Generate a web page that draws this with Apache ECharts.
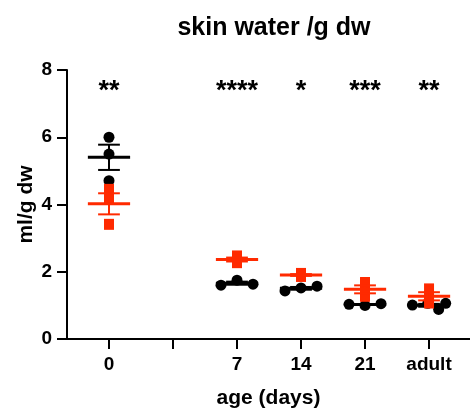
<!DOCTYPE html>
<html>
<head>
<meta charset="utf-8">
<script src="https://cdn.jsdelivr.net/npm/echarts@6/dist/echarts.min.js"></script>
<style>
  html, body { margin: 0; padding: 0; background: #fff; }
  #main { width: 470px; height: 412px; }
</style>
</head>
<body>
<div id="main"></div>
<script>
// x positions: 0, (gap), 7, 14, 21, adult
const tickLabels = ["0", "", "7", "14", "21", "adult"];
const groupPos = [0, 2, 3, 4, 5];
const yTicks = [0, 2, 4, 6, 8];

// black circles (one array per group) and their horizontal scatter
const blackValues = [
  [6.0, 5.5, 4.71],
  [1.6, 1.75, 1.63],
  [1.43, 1.52, 1.57],
  [1.03, 1.0, 1.05],
  [1.01, 1.06, 0.88, 1.06]
];
const blackJitter = [
  [0, 0, 0],
  [-0.25, 0, 0.25],
  [-0.25, 0, 0.25],
  [-0.25, 0, 0.25],
  [-0.26, -0.02, 0.15, 0.26]
];

// red squares
const redValues = [
  [4.45, 4.2, 3.41],
  [2.47, 2.35, 2.27],
  [1.95, 1.9, 1.86],
  [1.68, 1.48, 1.27],
  [1.49, 1.25, 1.07]
];

const stars = ["**", "****", "*", "***", "**"];

const BLACK = "#000000";
const RED = "#ff2a00";
const FONT = "Liberation Sans";

function meanSem(arr) {
  const n = arr.length;
  const m = arr.reduce((a, b) => a + b, 0) / n;
  const sd = Math.sqrt(arr.reduce((a, b) => a + (b - m) * (b - m), 0) / (n - 1));
  return [m, sd / Math.sqrt(n)];
}

function pointsOf(values, jitter) {
  const out = [];
  values.forEach((vals, g) => {
    vals.forEach((v, i) => {
      out.push([groupPos[g] + (jitter ? jitter[g][i] : 0), v]);
    });
  });
  return out;
}

function summaryOf(values) {
  return values.map((vals, g) => {
    const ms = meanSem(vals);
    return [groupPos[g], ms[0], ms[1]];
  });
}

function errRender(color) {
  return function (params, api) {
    const x = api.value(0), m = api.value(1), s = api.value(2);
    const p = (a, b) => api.coord([a, b]);
    const mk = (a, b, w) => ({
      type: "line",
      shape: { x1: a[0], y1: a[1], x2: b[0], y2: b[1] },
      style: { stroke: color, lineWidth: w }
    });
    return {
      type: "group",
      children: [
        mk(p(x - 0.33, m), p(x + 0.33, m), 3),
        mk(p(x, m - s), p(x, m + s), 2),
        mk(p(x - 0.17, m + s), p(x + 0.17, m + s), 2),
        mk(p(x - 0.17, m - s), p(x + 0.17, m - s), 2)
      ]
    };
  };
}

const chart = echarts.init(document.getElementById("main"));

chart.setOption({
  animation: false,
  backgroundColor: "#fff",
  title: {
    text: "skin water /g dw",
    left: 269,
    top: 11,
    textAlign: "center",
    textStyle: { fontFamily: FONT, fontWeight: "bold", fontSize: 25, color: "#000" }
  },
  grid: { left: 67, right: 0, top: 70, bottom: 73, containLabel: false, outerBoundsMode: "none" },
  xAxis: {
    type: "value",
    min: -0.656,
    max: 5.64,
    name: "age (days)",
    nameLocation: "middle",
    nameGap: 49,
    nameMoveOverlap: false,
    nameTextStyle: { fontFamily: FONT, fontWeight: "bold", fontSize: 21, color: "#000" },
    splitLine: { show: false },
    axisLine: { show: true, onZero: false, lineStyle: { color: "#000", width: 2 } },
    axisTick: { show: true, customValues: [0, 1, 2, 3, 4, 5], length: 10, lineStyle: { color: "#000", width: 2 } },
    axisLabel: {
      customValues: [0, 2, 3, 4, 5],
      formatter: (v) => tickLabels[Math.round(v)],
      margin: 16,
      fontFamily: FONT, fontWeight: "bold", fontSize: 19, color: "#000"
    }
  },
  yAxis: {
    type: "value",
    min: 0,
    max: 8,
    interval: 2,
    name: "ml/g dw",
    nameLocation: "middle",
    nameGap: 30,
    nameMoveOverlap: false,
    nameTextStyle: { fontFamily: FONT, fontWeight: "bold", fontSize: 21, color: "#000" },
    splitLine: { show: false },
    axisLine: { show: true, onZero: false, lineStyle: { color: "#000", width: 2 } },
    axisTick: { show: true, length: 10, lineStyle: { color: "#000", width: 2 } },
    axisLabel: {
      margin: 15,
      formatter: (v) => (yTicks.indexOf(v) >= 0 ? String(v) : ""),
      fontFamily: FONT, fontWeight: "bold", fontSize: 19, color: "#000"
    }
  },
  series: [
    {
      type: "custom",
      renderItem: errRender(BLACK),
      data: summaryOf(blackValues),
      z: 2
    },
    {
      type: "scatter",
      symbol: "circle",
      symbolSize: 11,
      itemStyle: { color: BLACK, opacity: 1 },
      data: pointsOf(blackValues, blackJitter),
      z: 3
    },
    {
      type: "scatter",
      symbol: "rect",
      symbolSize: [10, 11],
      itemStyle: { color: RED, opacity: 1 },
      data: pointsOf(redValues, null),
      z: 4
    },
    {
      type: "custom",
      renderItem: errRender(RED),
      data: summaryOf(redValues),
      z: 5
    },
    {
      type: "scatter",
      symbolSize: 0,
      itemStyle: { opacity: 1 },
      data: groupPos.map((x) => [x, 7.35]),
      label: {
        show: true,
        position: "inside",
        formatter: (p) => stars[p.dataIndex],
        fontFamily: FONT, fontWeight: "bold", fontSize: 27, color: "#000"
      },
      z: 6
    }
  ]
});
</script>
</body>
</html>
